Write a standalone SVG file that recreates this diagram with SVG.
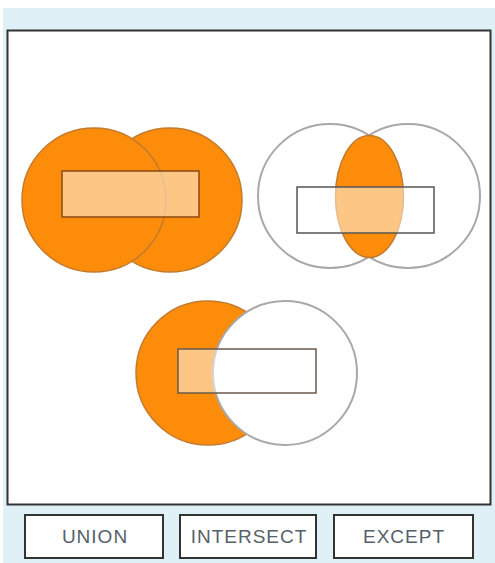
<svg xmlns="http://www.w3.org/2000/svg" width="495" height="563" viewBox="0 0 495 563">
<style>
.or{fill:#fd8c0a;stroke:#c47a2c;stroke-width:1.5}
.wc{fill:#ffffff;stroke:#a8a8a8;stroke-width:2}
.rbox{fill:#ffffff;fill-opacity:0.5;stroke-width:1.5}
.btn{fill:#ffffff;stroke:#333333;stroke-width:2}
.lbl{font-family:"Liberation Sans",Arial,sans-serif;font-size:19px;fill:#56606a;text-anchor:middle;letter-spacing:1px}
</style>
<rect x="3" y="8" width="492" height="555" fill="#dff0f7"/>
<rect x="7.5" y="30.5" width="483" height="474" fill="#ffffff" stroke="#333333" stroke-width="2"/>
<g id="union">
<circle class="or" cx="170" cy="200" r="72"/>
<circle class="or" cx="94" cy="200" r="72"/>
<rect class="rbox" x="62" y="171" width="137" height="46" stroke="#8a4a12"/>
</g>
<g id="intersect">
<circle class="wc" cx="330" cy="196" r="72"/>
<circle class="wc" cx="408" cy="196" r="72"/>
<ellipse class="or" cx="369.5" cy="196.5" rx="34" ry="61"/>
<rect class="rbox" x="297" y="187" width="137" height="46" stroke="#555555"/>
</g>
<g id="except">
<circle class="or" cx="208" cy="373" r="72"/>
<circle class="wc" cx="285" cy="373" r="72"/>
<rect class="rbox" x="178" y="349" width="138" height="44" stroke="#6a5a4c"/>
</g>
<g id="btn-union">
<rect class="btn" x="25" y="515" width="138" height="43"/>
<text class="lbl" x="95" y="543">UNION</text>
</g>
<g id="btn-intersect">
<rect class="btn" x="180" y="515" width="136" height="43"/>
<text class="lbl" x="249" y="543">INTERSECT</text>
</g>
<g id="btn-except">
<rect class="btn" x="334" y="515" width="139" height="43"/>
<text class="lbl" x="404" y="543">EXCEPT</text>
</g>
<g id="connectors"/>
</svg>
